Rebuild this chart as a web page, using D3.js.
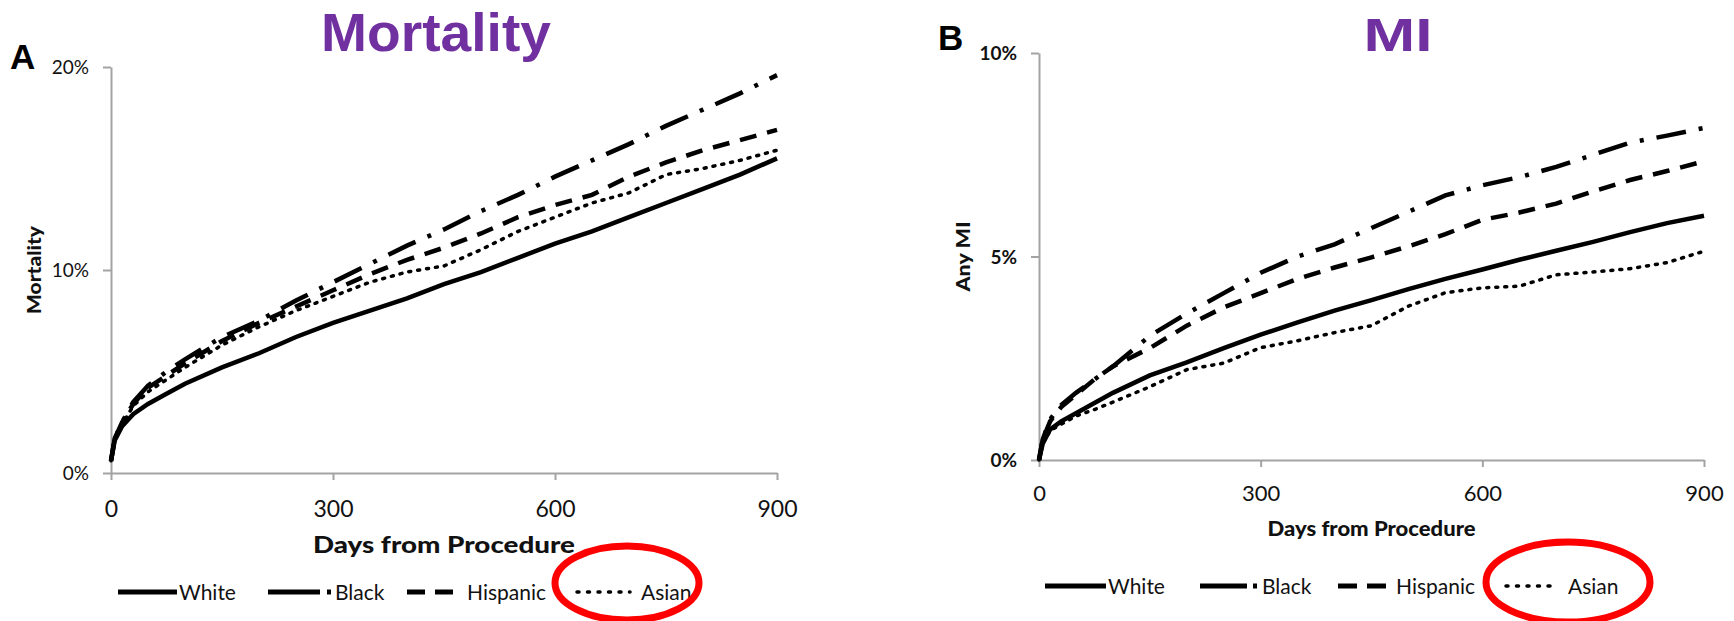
<!DOCTYPE html>
<html>
<head>
<meta charset="utf-8">
<script src="https://cdn.jsdelivr.net/npm/d3@7"></script>
<style>
  html, body { margin: 0; padding: 0; background: #fff; }
  svg { display: block; }
  text { font-family: Lato, "Open Sans", sans-serif; fill: #111; }
</style>
</head>
<body>
<svg id="canvas" width="1734" height="621"></svg>
<script>
// days shared by both panels
const days = [0, 5, 15, 30, 50, 75, 100, 150, 200, 250, 300, 350, 400, 450, 500, 550, 600, 650, 700, 750, 800, 850, 900]
const xTicks = [0, 300, 600, 900]
const groups = ["White", "Black", "Hispanic", "Asian"]

// panel A: mortality (%)
const mortWhite    = [0.6, 1.6, 2.3, 2.9, 3.4, 3.9, 4.4, 5.2, 5.9, 6.7, 7.4, 8.0, 8.6, 9.3, 9.9, 10.6, 11.3, 11.9, 12.6, 13.3, 14.0, 14.7, 15.5]
const mortBlack    = [0.6, 1.7, 2.5, 3.5, 4.3, 5.0, 5.6, 6.7, 7.5, 8.5, 9.4, 10.3, 11.2, 12.0, 12.9, 13.7, 14.6, 15.4, 16.2, 17.1, 17.9, 18.7, 19.6]
const mortHispanic = [0.6, 1.7, 2.5, 3.4, 4.2, 4.8, 5.4, 6.5, 7.4, 8.2, 9.0, 9.8, 10.5, 11.1, 11.8, 12.6, 13.2, 13.7, 14.6, 15.3, 15.9, 16.4, 16.9]
const mortAsian    = [0.6, 1.6, 2.4, 3.3, 4.0, 4.6, 5.2, 6.3, 7.2, 8.0, 8.7, 9.4, 9.9, 10.2, 11.0, 11.9, 12.6, 13.3, 13.8, 14.7, 15.0, 15.4, 15.9]
const mortTicks = [0, 10, 20]

// panel B: any MI (%)
const miWhite    = [0, 0.4, 0.75, 0.95, 1.15, 1.4, 1.65, 2.08, 2.4, 2.75, 3.08, 3.38, 3.67, 3.93, 4.2, 4.45, 4.68, 4.92, 5.14, 5.36, 5.6, 5.82, 6.0]
const miBlack    = [0, 0.5, 1.0, 1.35, 1.65, 1.98, 2.3, 3.05, 3.6, 4.1, 4.6, 5.0, 5.3, 5.7, 6.1, 6.5, 6.75, 6.95, 7.2, 7.5, 7.8, 7.97, 8.16]
const miHispanic = [0, 0.5, 0.95, 1.3, 1.6, 1.98, 2.3, 2.75, 3.3, 3.75, 4.1, 4.45, 4.73, 4.98, 5.25, 5.55, 5.9, 6.08, 6.3, 6.6, 6.88, 7.1, 7.34]
const miAsian    = [0, 0.4, 0.72, 0.88, 1.08, 1.24, 1.42, 1.8, 2.22, 2.38, 2.76, 2.93, 3.13, 3.3, 3.78, 4.11, 4.23, 4.27, 4.55, 4.62, 4.7, 4.85, 5.13]
const miTicks = [0, 5, 10]

const dash = {
  White:    null,
  Black:    "30,13,4,13",
  Hispanic: "17,11",
  Asian:    "2,7"
}
const width = { White: 4.5, Black: 4.5, Hispanic: 4.5, Asian: 3.5 }

const svg = d3.select("#canvas")

function panel(o) {
  const x = d3.scaleLinear().domain([0, 900]).range([o.left, o.right])
  const y = d3.scaleLinear().domain([0, o.yTicks[2]]).range([o.bottom, o.top])
  const g = svg.append("g")

  // axes
  const ya = g.append("g").attr("transform", `translate(${o.left},0)`)
    .call(d3.axisLeft(y).tickValues(o.yTicks).tickSize(8).tickSizeOuter(0).tickFormat(d => d + "%"))
  const xa = g.append("g").attr("transform", `translate(0,${o.bottom})`)
    .call(d3.axisBottom(x).tickValues(xTicks).tickSize(7).tickSizeOuter(0))
  g.selectAll(".domain, .tick line").attr("stroke", "#a3a3a3").attr("stroke-width", 2)
  ya.selectAll("text").attr("x", -22).attr("dy", "0.35em")
    .style("font-size", o.yFont + "px").style("font-weight", o.yWeight)
  xa.selectAll("text").attr("y", o.xLabOff).attr("dy", "0.35em")
    .style("font-size", o.xFont + "px")

  // curves
  const line = d3.line().x((d, i) => x(days[i])).y(d => y(d))
  groups.forEach((k, i) => {
    g.append("path").datum(o.series[i])
      .attr("d", line)
      .attr("fill", "none")
      .attr("stroke", "#000")
      .attr("stroke-width", width[k])
      .attr("stroke-linecap", k == "Asian" ? "round" : "butt")
      .attr("stroke-dasharray", dash[k])
  })

  // texts
  g.append("text").text(o.title)
    .attr("x", o.titleX).attr("y", 51).attr("text-anchor", "middle")
    .attr("textLength", o.titleW).attr("lengthAdjust", "spacingAndGlyphs")
    .style("font-family", o.titleFamily).style("font-weight", 700)
    .style("font-size", o.titleFont + "px").style("fill", "#7030a0")
  g.append("text").text(o.letter)
    .attr("x", o.letterX).attr("y", o.letterY)
    .style("font-family", "'Liberation Sans', Arial, sans-serif").style("font-weight", 700)
    .style("font-size", "35px").style("fill", "#000")
  g.append("text").text("Days from Procedure")
    .attr("x", (o.left + o.right) / 2).attr("y", o.xTitleY).attr("dy", "0.35em")
    .attr("text-anchor", "middle")
    .attr("textLength", o.xTitleW).attr("lengthAdjust", "spacingAndGlyphs")
    .style("font-weight", 900).style("font-size", o.xTitleFont + "px")
  g.append("text").text(o.yTitle)
    .attr("transform", `translate(${o.yTitleX},${(o.top + o.bottom) / 2}) rotate(-90)`)
    .attr("text-anchor", "middle").attr("dy", "0.35em")
    .attr("textLength", o.yTitleW).attr("lengthAdjust", "spacingAndGlyphs")
    .style("font-weight", 900).style("font-size", "19px")

  // legend
  const lg = g.append("g").attr("transform", `translate(0,${o.legY})`)
  groups.forEach((k, i) => {
    const p = o.leg[i]
    lg.append("line").attr("x1", p[0]).attr("x2", p[1]).attr("y1", 0).attr("y2", 0)
      .attr("stroke", "#000").attr("stroke-width", k == "Asian" ? 3.5 : 5)
      .attr("stroke-linecap", k == "Asian" ? "round" : "butt")
      .attr("stroke-dasharray", o.legDash[k])
    lg.append("text").text(k).attr("x", p[2]).attr("y", 0).attr("dy", "0.36em")
      .style("font-size", o.legFont + "px")
  })

  // red highlight round Asian
  svg.append("ellipse")
    .attr("cx", o.ring[0]).attr("cy", o.ring[1]).attr("rx", o.ring[2]).attr("ry", o.ring[3])
    .attr("fill", "none").attr("stroke", "#ff0000").attr("stroke-width", 7)
}

panel({
  left: 111, right: 777, top: 67, bottom: 473,
  yTicks: mortTicks, yFont: 19, yWeight: 400, xFont: 23, xLabOff: 36,
  series: [mortWhite, mortBlack, mortHispanic, mortAsian],
  title: "Mortality", titleX: 436, titleW: 230, titleFont: 53,
  titleFamily: "'Liberation Sans', Arial, sans-serif",
  letter: "A", letterX: 10, letterY: 69,
  xTitleY: 545, xTitleW: 262, xTitleFont: 22,
  yTitle: "Mortality", yTitleX: 34, yTitleW: 88,
  legY: 592, legFont: 21,
  legDash: { White: null, Black: "52,7,4,30", Hispanic: "18,10", Asian: "2,8.5" },
  leg: [[118, 177, 179], [268, 332, 335], [407, 453, 467], [577, 630, 641]],
  ring: [627, 583, 72, 37]
})

panel({
  left: 1039, right: 1704, top: 53, bottom: 460,
  yTicks: miTicks, yFont: 19, yWeight: 700, xFont: 22, xLabOff: 33,
  series: [miWhite, miBlack, miHispanic, miAsian],
  title: "MI", titleX: 1398, titleW: 69, titleFont: 46,
  titleFamily: "'Liberation Sans', Arial, sans-serif",
  letter: "B", letterX: 938, letterY: 50,
  xTitleY: 529, xTitleW: 208, xTitleFont: 20,
  yTitle: "Any MI", yTitleX: 963, yTitleW: 70,
  legY: 586, legFont: 21,
  legDash: { White: null, Black: "47,6,4,30", Hispanic: "19,10", Asian: "2,8.5" },
  leg: [[1045, 1106, 1108], [1200, 1258, 1262], [1338, 1386, 1396], [1506, 1556, 1568]],
  ring: [1568, 582, 82, 40]
})
</script>
</body>
</html>
